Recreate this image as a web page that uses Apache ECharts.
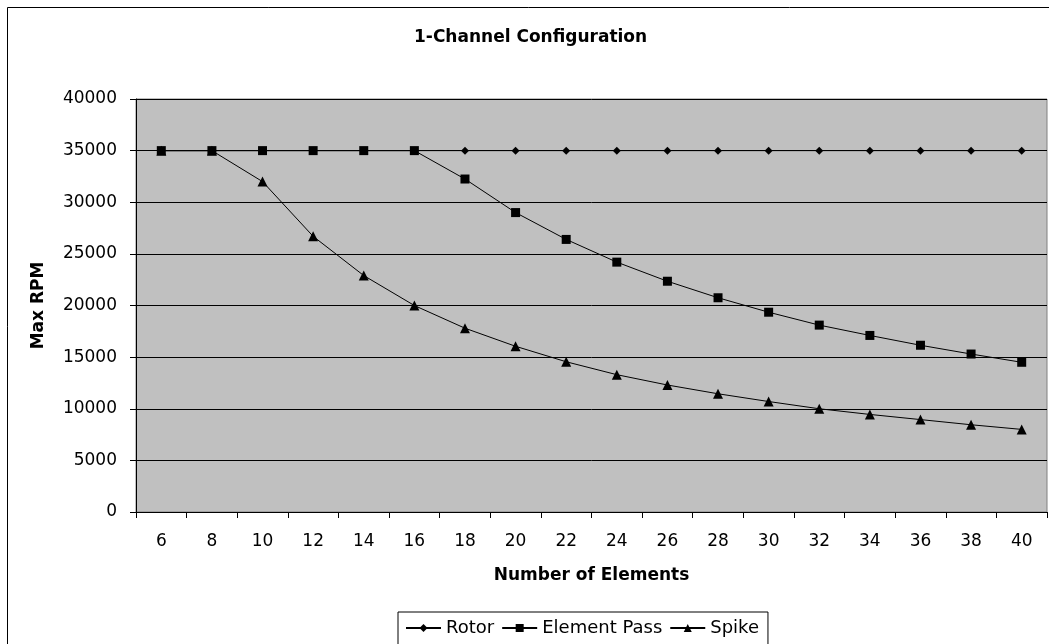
<!DOCTYPE html>
<html><head><meta charset="utf-8">
<script src="https://cdn.jsdelivr.net/npm/echarts@6/dist/echarts.min.js"></script>
<style>html,body{margin:0;padding:0;background:#fff}#c{width:1049px;height:644px}</style>
</head><body><div id="c"></div>
<script>
const categories = ['6','8','10','12','14','16','18','20','22','24','26','28','30','32','34','36','38','40'];
const rotor = [35000,35000,35000,35000,35000,35000,35000,35000,35000,35000,35000,35000,35000,35000,35000,35000,35000,35000];
const elementPass = [35000,35000,35000,35000,35000,35000,32250,29000,26400,24200,22350,20750,19350,18100,17100,16150,15300,14500];
const spike = [35000,35000,32000,26700,22900,20000,17800,16050,14550,13300,12300,11450,10700,10000,9450,8950,8450,8000];
const yTicks = {min:0, max:40000, interval:5000};

const font = 'DejaVu Sans, sans-serif';
const chart = echarts.init(document.getElementById('c'));
const mk = (name, data, symbol, size) => ({
  name, type:'line', data, symbol, symbolSize:size, showSymbol:true,
  lineStyle:{color:'#000', width:1}, itemStyle:{color:'#000'},
  emphasis:{disabled:true}, animation:false, z: 3
});
chart.setOption({
  animation:false,
  backgroundColor:'#fff',
  title:{text:'1-Channel Configuration', left:414, top:29, padding:0,
    textStyle:{fontFamily:font, fontSize:17, fontWeight:'bold', color:'#000'}},
  graphic:[{type:'rect', shape:{x:7.5,y:7.5,width:1100,height:700}, style:{fill:null, stroke:'#000', lineWidth:1}, silent:true, z:-1}],
  legend:{top:612, left:398, itemGap:7, itemWidth:35, itemHeight:10,
    borderColor:'#000', borderWidth:1, padding:[7,9,20,7],
    textStyle:{fontFamily:font, fontSize:18, lineHeight:18, color:'#000'},
    data:['Rotor','Element Pass','Spike']},
  grid:{left:136, right:2, top:99, bottom:132, show:true, backgroundColor:'#c0c0c0', borderColor:'#808080', borderWidth:1},
  xAxis:{type:'category', data:categories, boundaryGap:true,
    name:'Number of Elements', nameLocation:'middle', nameGap:55,
    nameTextStyle:{fontFamily:font, fontSize:17, fontWeight:'bold', color:'#000'},
    axisLine:{lineStyle:{color:'#000', width:1}},
    axisTick:{show:true, length:6, lineStyle:{color:'#000'}, alignWithLabel:false},
    axisLabel:{fontFamily:font, fontSize:17, color:'#000', margin:21, interval:0},
    splitLine:{show:false}},
  yAxis:{type:'value', min:yTicks.min, max:yTicks.max, interval:yTicks.interval,
    name:'Max RPM', nameLocation:'middle', nameGap:89, nameRotate:90,
    nameTextStyle:{fontFamily:font, fontSize:17, fontWeight:'bold', color:'#000'},
    axisLine:{show:true, lineStyle:{color:'#000', width:1}},
    axisTick:{show:true, length:6, lineStyle:{color:'#000'}},
    axisLabel:{fontFamily:font, fontSize:17, color:'#000', margin:19, formatter:v=>String(v)},
    splitLine:{show:true, lineStyle:{color:'#000', width:1}}},
  series:[mk('Rotor', rotor, 'diamond', 8), mk('Element Pass', elementPass, 'rect', 9), mk('Spike', spike, 'triangle', 10)]
});
</script></body></html>
